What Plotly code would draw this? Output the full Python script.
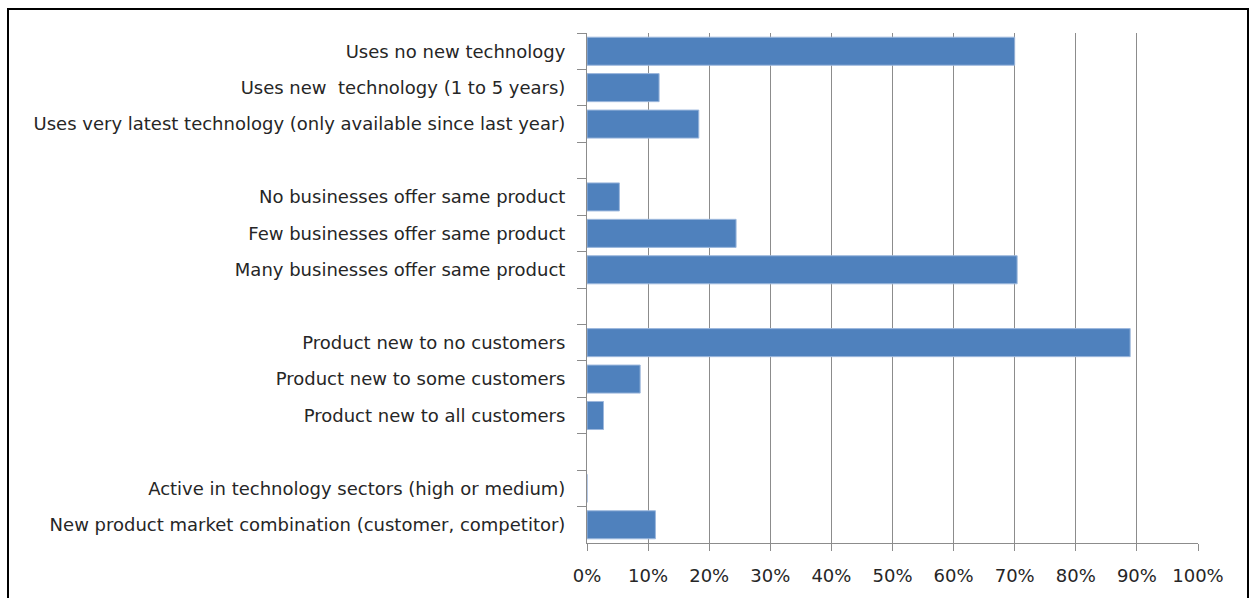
import plotly.graph_objects as go

# Rows top to bottom; blank rows separate the groups (unique whitespace labels)
categories = [
    "Uses no new technology",
    "Uses new  technology (1 to 5 years)",
    "Uses very latest technology (only available since last year)",
    " ",
    "No businesses offer same product",
    "Few businesses offer same product",
    "Many businesses offer same product",
    "  ",
    "Product new to no customers",
    "Product new to some customers",
    "Product new to all customers",
    "   ",
    "Active in technology sectors (high or medium)",
    "New product market combination (customer, competitor)",
]
shares = [
    0.700, 0.118, 0.183, None,
    0.053, 0.244, 0.704, None,
    0.889, 0.087, 0.027, None,
    0.0, 0.112,
]

x_ticks = [i / 10 for i in range(11)]

fig = go.Figure(
    go.Bar(
        x=shares,
        y=categories,
        orientation="h",
        marker=dict(color="#4F81BD", line=dict(color="#9DB8DD", width=1)),
    )
)

axis_font = dict(family="'DejaVu Sans', sans-serif", size=18, color="#262626")

fig.update_layout(
    width=1257,
    height=598,
    margin=dict(l=587, r=59, t=33, b=53),
    paper_bgcolor="white",
    plot_bgcolor="white",
    bargap=0.23,
    showlegend=False,
    font=axis_font,
    xaxis=dict(
        range=[0, 1],
        tickvals=x_ticks,
        tickformat=".0%",
        showgrid=True,
        gridcolor="#8c8c8c",
        gridwidth=1,
        zeroline=False,
        showline=True,
        linecolor="#8c8c8c",
        linewidth=1,
        ticks="outside",
        ticklen=7,
        tickcolor="#8c8c8c",
        ticklabelstandoff=9,
        tickfont=axis_font,
    ),
    yaxis=dict(
        type="category",
        categoryorder="array",
        categoryarray=categories,
        autorange="reversed",
        showgrid=False,
        zeroline=False,
        showline=True,
        linecolor="#8c8c8c",
        linewidth=1,
        ticks="outside",
        tickson="boundaries",
        ticklen=9,
        tickcolor="#8c8c8c",
        ticklabelstandoff=17,
        tickfont=axis_font,
    ),
    shapes=[
        dict(
            type="rect",
            xref="paper",
            yref="paper",
            x0=(8 - 587) / 611,
            x1=(1248 - 587) / 611,
            y0=-0.3,
            y1=(545 - 9) / 512,
            line=dict(color="black", width=2),
            fillcolor="rgba(0,0,0,0)",
            layer="below",
        )
    ],
)

fig.write_html("out.html")
